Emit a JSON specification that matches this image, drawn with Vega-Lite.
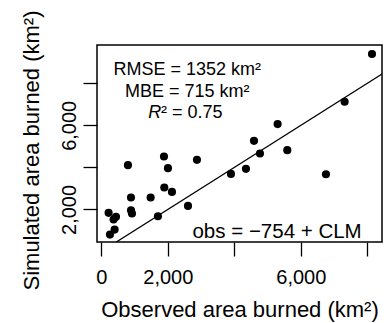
{
  "$schema": "https://vega.github.io/schema/vega-lite/v6.json",
  "width": 285,
  "height": 197,
  "autosize": {"type": "none"},
  "padding": {"left": 97, "top": 45, "right": 6, "bottom": 81},
  "background": "white",
  "config": {
    "view": {"stroke": "#000", "strokeWidth": 1.5},
    "font": "Liberation Sans",
    "axis": {"grid": false, "domain": false, "tickColor": "#000", "tickWidth": 1.3, "tickSize": 14,
      "labelColor": "#000", "titleColor": "#000", "labelFont": "Liberation Sans", "titleFont": "Liberation Sans",
      "labelFontSize": 20, "titleFontSize": 22, "titleFontWeight": "normal"}
  },
  "datasets": {
    "pts": [
      {"obs": 8141, "sim": 9390}, {"obs": 7318, "sim": 7119}, {"obs": 5303, "sim": 6057},
      {"obs": 4592, "sim": 5262}, {"obs": 4772, "sim": 4662}, {"obs": 5594, "sim": 4819},
      {"obs": 4351, "sim": 3929}, {"obs": 3900, "sim": 3690}, {"obs": 6757, "sim": 3676},
      {"obs": 2877, "sim": 4357}, {"obs": 1885, "sim": 4519}, {"obs": 2005, "sim": 3962},
      {"obs": 802, "sim": 4105}, {"obs": 1895, "sim": 3043}, {"obs": 2125, "sim": 2833},
      {"obs": 1484, "sim": 2567}, {"obs": 893, "sim": 2567}, {"obs": 893, "sim": 1962},
      {"obs": 923, "sim": 1805}, {"obs": 1704, "sim": 1676}, {"obs": 2607, "sim": 2167},
      {"obs": 220, "sim": 1838}, {"obs": 370, "sim": 1524}, {"obs": 442, "sim": 1648},
      {"obs": 401, "sim": 1043}, {"obs": 261, "sim": 805}
    ],
    "fit": [{"obs": 452, "sim": 452}, {"obs": 8442, "sim": 8442}],
    "stats": [
      {"obs": 2586, "sim": 8392, "label": "RMSE = 1352 km²"},
      {"obs": 2586, "sim": 7361, "label": "MBE = 715 km²"}
    ],
    "r": [{"obs": 1414, "sim": 6333, "label": "R"}],
    "r2": [{"obs": 1795, "sim": 6333, "label": "² = 0.75"}],
    "eq": [{"obs": 7832, "sim": 627, "label": "obs = −754 + CLM"}]
  },
  "encoding": {
    "x": {"field": "obs", "type": "quantitative",
      "scale": {"domain": [-129, 8442], "nice": false, "zero": false},
      "axis": {"values": [0, 2000, 4000, 6000, 8000], "labelExpr": "datum.value == 4000 || datum.value == 8000 ? '' : format(datum.value, ',')",
        "labelPadding": 11, "title": "Observed area burned (km²)", "titlePadding": 12}},
    "y": {"field": "sim", "type": "quantitative",
      "scale": {"domain": [452, 9819], "nice": false, "zero": false},
      "axis": {"values": [2000, 4000, 6000, 8000], "labelExpr": "datum.value == 4000 || datum.value == 8000 ? '' : format(datum.value, ',')",
        "labelAngle": -90, "labelAlign": "center", "labelBaseline": "bottom", "labelPadding": 4,
        "title": "Simulated area burned (km²)", "titlePadding": 16, "titleY": 105}}
  },
  "layer": [
    {"data": {"name": "fit"}, "mark": {"type": "line", "color": "#000", "strokeWidth": 1.3, "clip": true}},
    {"data": {"name": "pts"}, "mark": {"type": "point", "filled": true, "shape": "circle", "size": 66, "color": "#000", "opacity": 1}},
    {"data": {"name": "stats"}, "mark": {"type": "text", "fontSize": 18, "align": "center", "baseline": "alphabetic", "color": "#000"},
      "encoding": {"text": {"field": "label"}}},
    {"data": {"name": "r"}, "mark": {"type": "text", "fontSize": 18, "fontStyle": "italic", "align": "left", "baseline": "alphabetic", "color": "#000"},
      "encoding": {"text": {"field": "label"}}},
    {"data": {"name": "r2"}, "mark": {"type": "text", "fontSize": 18, "align": "left", "baseline": "alphabetic", "color": "#000"},
      "encoding": {"text": {"field": "label"}}},
    {"data": {"name": "eq"}, "mark": {"type": "text", "fontSize": 20.5, "align": "right", "baseline": "alphabetic", "color": "#000"},
      "encoding": {"text": {"field": "label"}}}
  ]
}
